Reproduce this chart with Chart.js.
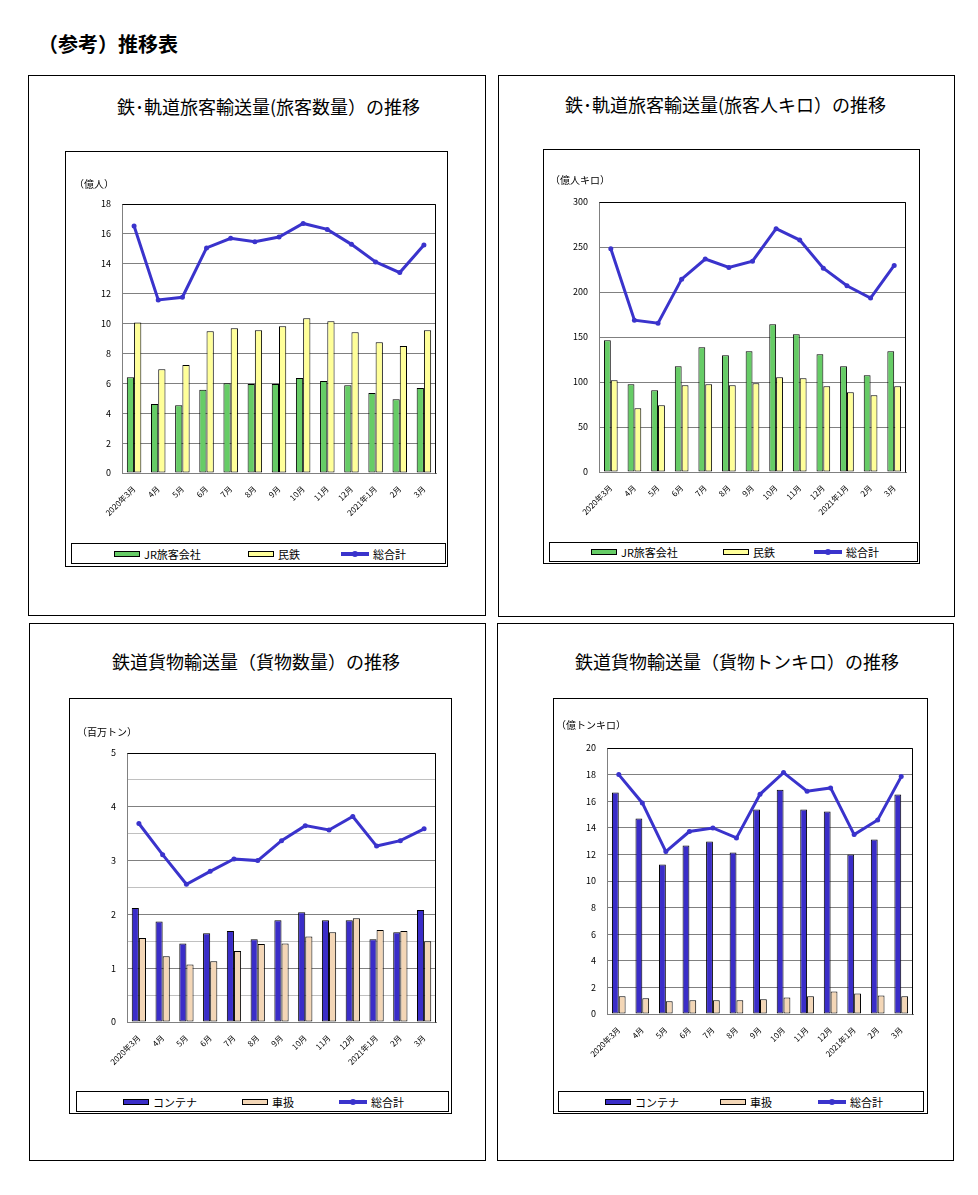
<!DOCTYPE html>
<html lang="ja">
<head>
<meta charset="utf-8">
<title>（参考）推移表</title>
<script src="https://cdn.jsdelivr.net/npm/chart.js@4.4.0/dist/chart.umd.min.js"></script>
<style>
  body { margin: 0; background: #fff; font-family: "Noto Sans CJK JP", "Noto Sans", sans-serif; color: #000; }
  #page { position: relative; width: 978px; height: 1195px; }
  .frame { position: absolute; border: 1px solid #000; box-sizing: border-box; }
  .frame canvas { position: absolute; left: 0; top: 0; }
  .head { position: absolute; left: 38px; top: 34px; font-size: 20px; font-weight: bold; line-height: 1; white-space: nowrap; }
  .title { position: absolute; font-size: 18px; line-height: 1; white-space: nowrap; }
  .unit { position: absolute; font-size: 10px; line-height: 1; white-space: nowrap; }
  .legend { position: absolute; border: 1px solid #000; box-sizing: border-box; background: #fff; }
  .item { position: absolute; top: 0; height: 100%; display: flex; align-items: center; font-size: 11px; white-space: nowrap; }
  .sw { display: inline-block; margin-right: 4px; box-sizing: border-box; }
  .sw.bar { width: 26px; height: 6px; border: 1px solid #000; }
  .sw.line { position: relative; width: 28px; height: 4px; }
  .sw.line i { position: absolute; left: 11px; top: -1px; width: 6px; height: 6px; border-radius: 50%; }
</style>
</head>
<body>
<div id="page">
  <div class="head">（参考）推移表</div>

  <!-- 旅客数量 -->
  <div class="frame" style="left:28px;top:75px;width:458px;height:541px"></div>
  <div class="title" style="left:117px;top:97px">鉄･軌道旅客輸送量(旅客数量）の推移</div>
  <div class="frame" style="left:65px;top:151px;width:383px;height:416px">
    <canvas id="c1" width="381" height="414"></canvas>
    <div class="legend" id="lg1" style="left:5px;top:391px;width:375px;height:21px"></div>
  </div>
  <div class="unit" style="left:74px;top:179px">（億人）</div>

  <!-- 旅客人キロ -->
  <div class="frame" style="left:498px;top:75px;width:457px;height:542px"></div>
  <div class="title" style="left:565px;top:95px">鉄･軌道旅客輸送量(旅客人キロ）の推移</div>
  <div class="frame" style="left:543px;top:149px;width:377px;height:415px">
    <canvas id="c2" width="375" height="413"></canvas>
    <div class="legend" id="lg2" style="left:5px;top:392px;width:369px;height:20px"></div>
  </div>
  <div class="unit" style="left:550px;top:175px">（億人キロ）</div>

  <!-- 貨物数量 -->
  <div class="frame" style="left:29px;top:623px;width:457px;height:538px"></div>
  <div class="title" style="left:112px;top:652px">鉄道貨物輸送量（貨物数量）の推移</div>
  <div class="frame" style="left:69px;top:698px;width:383px;height:416px">
    <canvas id="c3" width="381" height="414"></canvas>
    <div class="legend" id="lg3" style="left:6px;top:392px;width:373px;height:21px"></div>
  </div>
  <div class="unit" style="left:77px;top:727px">（百万トン）</div>

  <!-- 貨物トンキロ -->
  <div class="frame" style="left:497px;top:623px;width:457px;height:538px"></div>
  <div class="title" style="left:575px;top:652px">鉄道貨物輸送量（貨物トンキロ）の推移</div>
  <div class="frame" style="left:553px;top:698px;width:375px;height:416px">
    <canvas id="c4" width="373" height="414"></canvas>
    <div class="legend" id="lg4" style="left:4px;top:392px;width:366px;height:21px"></div>
  </div>
  <div class="unit" style="left:556px;top:720px">（億トンキロ）</div>
</div>

<script>
// 月（2020年3月〜2021年3月）
const months = ["2020年3月", "4月", "5月", "6月", "7月", "8月", "9月", "10月", "11月", "12月", "2021年1月", "2月", "3月"];

// 旅客数量（億人）
const paxJR = [6.41, 4.61, 4.54, 5.57, 6.01, 5.95, 5.95, 6.35, 6.15, 5.88, 5.35, 4.94, 5.68];
const paxPrivate = [10.07, 6.95, 7.22, 9.49, 9.69, 9.55, 9.82, 10.36, 10.16, 9.42, 8.75, 8.49, 9.55];
const paxTotal = [16.53, 11.58, 11.76, 15.06, 15.70, 15.48, 15.79, 16.70, 16.30, 15.30, 14.12, 13.41, 15.26];

// 旅客人キロ（億人キロ）
const pkmJR = [146.5, 97.5, 90.8, 117.5, 138.7, 129.8, 134.2, 164.3, 153.1, 130.9, 117.5, 107.5, 134.2];
const pkmPrivate = [102.0, 70.8, 74.2, 96.4, 97.5, 96.4, 98.6, 105.3, 104.2, 95.3, 88.6, 85.3, 95.3];
const pkmTotal = [248.1, 168.7, 165.4, 214.3, 236.6, 227.3, 234.3, 270.3, 257.7, 226.5, 206.9, 193.2, 229.5];

// 貨物数量（百万トン）
const tonContainer = [2.12, 1.87, 1.46, 1.65, 1.69, 1.54, 1.89, 2.04, 1.89, 1.89, 1.54, 1.67, 2.08];
const tonWagon = [1.56, 1.22, 1.07, 1.13, 1.32, 1.45, 1.46, 1.59, 1.67, 1.93, 1.71, 1.69, 1.50];
const tonTotal = [3.69, 3.11, 2.56, 2.80, 3.03, 3.00, 3.37, 3.65, 3.57, 3.82, 3.27, 3.37, 3.59];

// 貨物トンキロ（億トンキロ）
const tkmContainer = [16.65, 14.69, 11.24, 12.67, 12.97, 12.14, 15.37, 16.87, 15.37, 15.22, 11.99, 13.12, 16.50];
const tkmWagon = [1.33, 1.18, 0.95, 1.03, 1.03, 1.03, 1.10, 1.25, 1.33, 1.70, 1.55, 1.40, 1.33];
const tkmTotal = [18.00, 15.87, 12.21, 13.72, 13.99, 13.24, 16.52, 18.15, 16.75, 17.00, 13.49, 14.59, 17.85];

// 軸の目盛り
const paxAxis = { max: 18, step: 2 };
const pkmAxis = { max: 300, step: 50 };
const tonAxis = { max: 5, step: 0.5 };
const tkmAxis = { max: 20, step: 2 };

const passengerNames = ["JR旅客会社", "民鉄", "総合計"];
const freightNames = ["コンテナ", "車扱", "総合計"];

const GREEN = "#66cc66";
const YELLOW = "#ffff99";
const NAVY = "#3a2dc8";
const TAN = "#f3d6b6";
const LINE = "#3a33cc";

Chart.defaults.font.family = '"Noto Sans CJK JP", "Noto Sans", sans-serif';
Chart.defaults.color = "#000";

// プロットエリアの上・右の枠線
const plotFrame = {
  id: "plotFrame",
  afterDraw(chart) {
    const { ctx, chartArea: a } = chart;
    ctx.save();
    ctx.strokeStyle = "#000";
    ctx.lineWidth = 1;
    ctx.beginPath();
    ctx.moveTo(Math.round(a.left) + 0.5, Math.round(a.top) + 0.5);
    ctx.lineTo(Math.round(a.right) - 0.5, Math.round(a.top) + 0.5);
    ctx.lineTo(Math.round(a.right) - 0.5, Math.round(a.bottom) + 0.5);
    ctx.stroke();
    ctx.restore();
  },
};

function buildLegend(chart, el, offsets) {
  chart.data.datasets.forEach((ds, i) => {
    const item = document.createElement("div");
    item.className = "item";
    item.style.left = offsets[i] + "px";
    const sw = document.createElement("span");
    if (ds.type === "line") {
      sw.className = "sw line";
      sw.style.background = ds.borderColor;
      const dot = document.createElement("i");
      dot.style.background = ds.borderColor;
      sw.appendChild(dot);
    } else {
      sw.className = "sw bar";
      sw.style.background = ds.backgroundColor;
    }
    item.appendChild(sw);
    item.appendChild(document.createTextNode(ds.label));
    el.appendChild(item);
  });
}

function makeChart(id, names, barColors, barA, barB, total, axis, area, barPct, legendOffsets, halfGrid) {
  const chart = new Chart(document.getElementById(id), {
    data: {
      labels: months,
      datasets: [
        { type: "bar", label: names[0], data: barA, backgroundColor: barColors[0], borderColor: "#000", borderWidth: 1, borderSkipped: false, order: 1 },
        { type: "bar", label: names[1], data: barB, backgroundColor: barColors[1], borderColor: "#000", borderWidth: 1, borderSkipped: false, order: 1 },
        {
          type: "line", label: names[2], data: total, borderColor: LINE, backgroundColor: LINE,
          borderWidth: 3, pointRadius: 2.5, pointBackgroundColor: LINE, pointBorderWidth: 0, tension: 0, order: 0,
        },
      ],
    },
    options: {
      responsive: false,
      devicePixelRatio: 1,
      animation: false,
      datasets: { bar: { categoryPercentage: barPct, barPercentage: 1 } },
      layout: { padding: { left: 0, right: area.right, top: area.top, bottom: area.bottom } },
      plugins: { legend: { display: false }, tooltip: { enabled: false } },
      scales: {
        x: {
          grid: { display: false },
          border: { color: "#808080", width: 1 },
          ticks: { font: { size: 8 }, minRotation: 45, maxRotation: 45, autoSkip: false, padding: 3 },
          afterFit: (s) => { s.height = 60; },
        },
        y: {
          min: 0,
          max: axis.max,
          grid: {
            drawTicks: false,
            color: (c) => (halfGrid && c.tick && c.tick.value % 1 !== 0 ? "#c0c0c0" : "#808080"),
          },
          border: { color: "#808080", width: 1 },
          ticks: {
            stepSize: axis.step,
            font: { size: 9 },
            padding: 11,
            callback: (v) => (halfGrid && v % 1 !== 0 ? "" : v),
          },
          afterFit: (s) => { s.width = area.left; },
        },
      },
    },
    plugins: [plotFrame],
  });
  buildLegend(chart, document.getElementById("lg" + id.slice(1)), legendOffsets);
  return chart;
}

makeChart("c1", passengerNames, [GREEN, YELLOW], paxJR, paxPrivate, paxTotal, paxAxis,
  { left: 56, right: 11, top: 52, bottom: 33 }, 0.6, [42, 176, 269], false);
makeChart("c2", passengerNames, [GREEN, YELLOW], pkmJR, pkmPrivate, pkmTotal, pkmAxis,
  { left: 55, right: 13, top: 52, bottom: 31 }, 0.58, [41, 173, 264], false);
makeChart("c3", freightNames, [NAVY, TAN], tonContainer, tonWagon, tonTotal, tonAxis,
  { left: 57, right: 15, top: 54, bottom: 31 }, 0.6, [46, 165, 262], true);
makeChart("c4", freightNames, [NAVY, TAN], tkmContainer, tkmWagon, tkmTotal, tkmAxis,
  { left: 53, right: 14, top: 49, bottom: 39 }, 0.58, [46, 161, 259], false);
</script>
</body>
</html>
